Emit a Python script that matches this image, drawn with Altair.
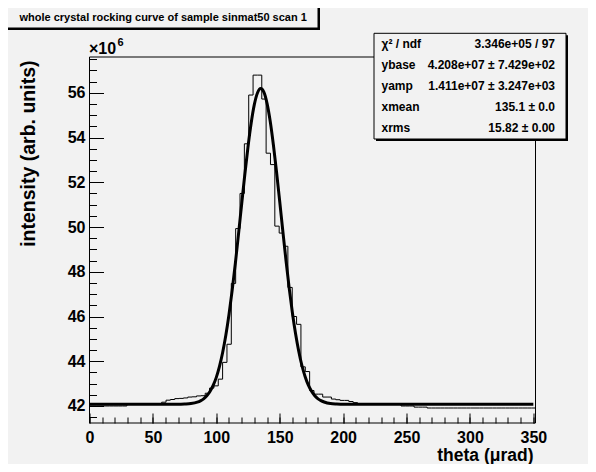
import altair as alt
import pandas as pd

FONT = "Liberation Sans"
BG = "#f2f2f2"

# ---------------- text ----------------
title_text = "whole crystal rocking curve of sample sinmat50 scan 1"
x_title = "theta (\u03bcrad)"
y_title = "intensity (arb. units)"
exponent_base = "\u00d710"
exponent_power = "6"
stat_names = ["\u03c7\u00b2 / ndf", "ybase", "yamp", "xmean", "xrms"]
stat_values = ["3.346e+05 / 97", "4.208e+07 \u00b1 7.429e+02",
               "1.411e+07 \u00b1 3.247e+03", "135.1 \u00b1 0.0", "15.82 \u00b1 0.00"]

# ---------------- data (intensity in units of 1e6) ----------------
bin_start = -1.41
bin_width = 350 / 102
hist_values = [
    42.00, 42.00, 42.00, 42.00, 42.00, 42.00, 42.00, 42.00, 42.00,
    42.07, 42.07, 42.07, 42.07, 42.07, 42.07, 42.07, 42.07,
    42.17, 42.26, 42.29, 42.33, 42.34, 42.36, 42.40, 42.41, 42.45, 42.46,
    42.57, 42.80, 42.90, 43.20, 43.95, 44.76, 47.48, 49.93, 51.50, 53.72,
    55.90, 56.79, 56.79, 55.72, 53.30, 52.79, 50.04, 49.73, 49.14, 47.30,
    46.00, 45.65, 43.75, 43.54, 42.69, 42.53, 42.53, 42.40, 42.40, 42.31,
    42.28, 42.25, 42.25, 42.20, 42.15,
    42.08, 42.08, 42.08, 42.08, 42.08, 42.08, 42.08, 42.08, 42.08, 42.08,
    42.00, 42.00, 42.00,
    41.95, 41.95, 41.95,
    41.91, 41.91, 41.91, 41.91, 41.91, 41.91, 41.91, 41.91, 41.91, 41.91,
    41.91, 41.91, 41.91, 41.91, 41.91, 41.91, 41.91, 41.91, 41.91, 41.91,
    41.91, 41.91, 41.91, 41.91, 41.91,
]

curve_x = [0, 50, 70, 75, 80, 85, 87.5, 90, 92.5, 95, 97.5, 100, 102.5, 105,
           107.5, 110, 112.5, 115, 117.5, 120, 122.5, 125, 127.5, 130, 132.5,
           135, 137.5, 140, 142.5, 145, 147.5, 150, 152.5, 155, 157.5, 160,
           162.5, 165, 167.5, 170, 172.5, 175, 177.5, 180, 182.5, 185, 190,
           195, 200, 250, 350]
curve_y = [42.08, 42.08, 42.08, 42.09, 42.11, 42.17, 42.23, 42.32, 42.46,
           42.65, 42.92, 43.28, 43.77, 44.39, 45.16, 46.09, 47.17, 48.37,
           49.68, 51.03, 52.36, 53.59, 54.65, 55.48, 56.00, 56.19, 56.03,
           55.53, 54.73, 53.68, 52.46, 51.14, 49.79, 48.48, 47.26, 46.17,
           45.23, 44.45, 43.81, 43.32, 42.94, 42.67, 42.47, 42.33, 42.24,
           42.18, 42.11, 42.09, 42.08, 42.08, 42.08]

x_major_ticks = [0, 50, 100, 150, 200, 250, 300, 350]
x_minor_ticks = [0, 10, 20, 30, 40, 50, 60, 70, 80, 90, 100, 110, 120, 130,
                 140, 150, 160, 170, 180, 190, 200, 210, 220, 230, 240, 250,
                 260, 270, 280, 290, 300, 310, 320, 330, 340, 350]
y_major_ticks = [42, 44, 46, 48, 50, 52, 54, 56]
y_minor_ticks = [41.5, 42.0, 42.5, 43.0, 43.5, 44.0, 44.5, 45.0, 45.5, 46.0,
                 46.5, 47.0, 47.5, 48.0, 48.5, 49.0, 49.5, 50.0, 50.5, 51.0,
                 51.5, 52.0, 52.5, 53.0, 53.5, 54.0, 54.5, 55.0, 55.5, 56.0,
                 56.5, 57.0, 57.5]

x_domain = [0, 351.7]
y_domain = [41.24, 57.6]

# ---------------- tables ----------------
edges = [bin_start + i * bin_width for i in range(len(hist_values) + 1)]
hist_df = pd.DataFrame({"theta": edges, "intensity": hist_values + [hist_values[-1]]})
curve_df = pd.DataFrame({"theta": curve_x, "intensity": curve_y})
one = pd.DataFrame({"a": [0]})

W, H = 446, 366

xs = alt.Scale(domain=x_domain, nice=False, zero=False)
ys = alt.Scale(domain=y_domain, nice=False, zero=False)

common_axis = dict(domain=False, grid=False, tickColor="black", tickWidth=1,
                   labelFont=FONT, labelFontWeight="bold", labelColor="black",
                   labelFlush=False, labelOverlap=False,
                   titleFont=FONT, titleFontWeight="bold", titleColor="black")

x_major_axis = alt.Axis(orient="bottom", values=x_major_ticks, tickSize=10, offset=-10,
                        labelFontSize=16, labelPadding=6, format="d",
                        title=x_title, titleFontSize=17.5, titleX=443.5, titleY=47.5,
                        titleAlign="right", titleBaseline="alphabetic", **common_axis)
y_major_axis = alt.Axis(orient="left", values=y_major_ticks, tickSize=14, offset=-14,
                        labelFontSize=16, labelPadding=4.5, format="d",
                        title=y_title, titleFontSize=19.5, titleAngle=270,
                        titleX=-65.5, titleY=3, titleAlign="right", titleBaseline="bottom",
                        **common_axis)
x_minor_axis = alt.Axis(orient="bottom", values=x_minor_ticks, tickSize=6, offset=-6,
                        labels=False, title=None, **common_axis)
y_minor_axis = alt.Axis(orient="left", values=y_minor_ticks, tickSize=7, offset=-7,
                        labels=False, title=None, **common_axis)

frame = alt.Chart(one).mark_rect(fillOpacity=0, stroke="black", strokeWidth=1).encode(
    x=alt.value(0), x2=alt.value(W), y=alt.value(0), y2=alt.value(H))

hist = alt.Chart(hist_df).mark_line(interpolate="step-after", color="black",
                                    strokeWidth=1, clip=True).encode(
    x=alt.X("theta:Q", scale=xs, axis=x_major_axis),
    y=alt.Y("intensity:Q", scale=ys, axis=y_major_axis))

curve = alt.Chart(curve_df).mark_line(interpolate="monotone", color="black",
                                      strokeWidth=3, clip=True).encode(
    x=alt.X("theta:Q", scale=xs, axis=x_minor_axis),
    y=alt.Y("intensity:Q", scale=ys, axis=y_minor_axis))


def box(x0, y0, x1, y1, shadow=2):
    sh = alt.Chart(one).mark_rect(fill="black").encode(
        x=alt.value(x0 + shadow), x2=alt.value(x1 + shadow),
        y=alt.value(y0 + shadow), y2=alt.value(y1 + shadow))
    bx = alt.Chart(one).mark_rect(fill=BG, stroke="black", strokeWidth=1).encode(
        x=alt.value(x0), x2=alt.value(x1), y=alt.value(y0), y2=alt.value(y1))
    return [sh, bx]


def text(s, x, y, size, align="left", weight="bold"):
    return alt.Chart(one).mark_text(text=s, font=FONT, fontSize=size, fontWeight=weight,
                                    align=align, baseline="alphabetic", color="black").encode(
        x=alt.value(x), y=alt.value(y))


layers = [frame, hist, curve]
layers += box(-84.5, -52, 228.5, -29)
layers.append(text(title_text, -70, -36.5, 11))
layers += box(284.5, -23.7, 476.5, 82)
row_y = [-9.5, 11.5, 32.5, 53.5, 74.5]
for name, val, yy in zip(stat_names, stat_values, row_y):
    layers.append(text(name, 292, yy, 12))
    layers.append(text(val, 465.5, yy, 12, align="right"))
layers.append(text(exponent_base, -0.5, -3, 16))
layers.append(text(exponent_power, 28, -11.5, 11))

chart = alt.layer(*layers).resolve_axis(x="independent", y="independent").properties(
    width=W, height=H,
    autosize=alt.AutoSizeParams(type="none"),
    padding={"left": 81.5, "top": 49, "right": 52.5, "bottom": 41},
).configure(background=BG).configure_view(stroke="transparent")

chart.save("out.html", embed_options={"renderer": "svg", "actions": False})
